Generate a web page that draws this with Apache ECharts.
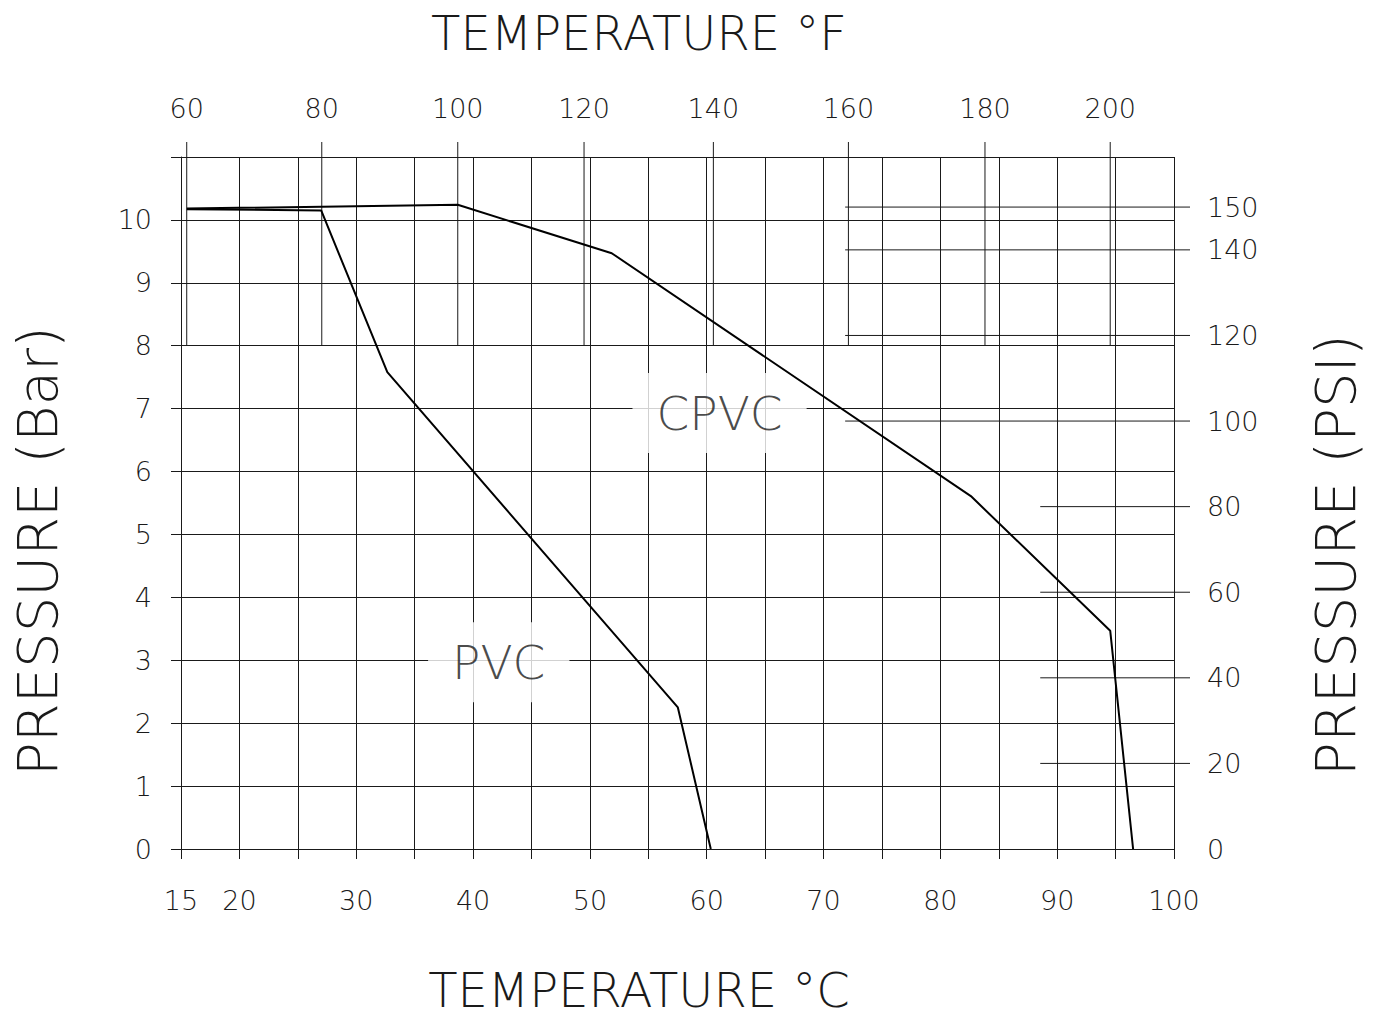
<!DOCTYPE html>
<html>
<head>
<meta charset="utf-8">
<script src="https://cdn.jsdelivr.net/npm/echarts@6/dist/echarts.min.js"></script>
<style>
html,body{margin:0;padding:0;background:#fff;}
#chart{width:1381px;height:1017px;}
</style>
</head>
<body>
<div id="chart"></div>
<script>
// ---- data ----
const pvcTempC  = [15.5, 27.0, 32.66, 57.53, 60.35];
const pvcBar    = [10.17, 10.15, 7.58, 2.25, 0];
const cpvcTempC = [15.5, 38.69, 51.87, 82.61, 94.54, 96.5];
const cpvcBar   = [10.18, 10.24, 9.47, 5.61, 3.47, 0];

// Fahrenheit scale (top): tick labels and the °C position where each is drawn
const fTickLabels = [60, 80, 100, 120, 140, 160, 180, 200];
const fTickAtC    = [15.49, 27.05, 38.69, 49.5, 60.57, 72.13, 83.82, 94.54];

// PSI scale (right)
const psiUpper = [150, 140, 120, 100];
const psiLower = [80, 60, 40, 20];
const psiZero  = [0];

// series labels
const labelNames = ['CPVC', 'PVC'];
const labelTempC = [61.1, 42.2];
const labelBar   = [6.93, 2.97];

const FONT = '"DejaVu Sans", Roboto, sans-serif';
const INK = '#1a1a1a';
const W = 200;

const chart = echarts.init(document.getElementById('chart'), null, {renderer: 'svg'});

function fRender(params, api) {
  const c = api.value(0);
  const pBottom = api.coord([c, 8]);
  const pTop = api.coord([c, 11]);
  return {
    type: 'group',
    children: [
      {type: 'line', shape: {x1: pBottom[0], y1: pBottom[1], x2: pBottom[0], y2: pTop[1] - 15},
       style: {stroke: INK, lineWidth: 1}},
      {type: 'text', x: pBottom[0], y: pTop[1] - 49,
       style: {text: String(api.value(1)), fill: INK, font: W + ' 27px ' + FONT, align: 'center', verticalAlign: 'middle'}}
    ]
  };
}

function psiRender(startC, drawLine) {
  return function (params, api) {
    const v = api.value(0);
    const pStart = api.coord([startC, v]);
    const pEnd = api.coord([100, v]);
    const children = [];
    if (drawLine) {
      children.push({type: 'line', shape: {x1: pStart[0], y1: pStart[1], x2: pEnd[0] + 16, y2: pEnd[1]},
        style: {stroke: INK, lineWidth: 1}});
    }
    children.push({type: 'text', x: pEnd[0] + 33, y: pEnd[1],
      style: {text: String(v), fill: INK, font: W + ' 27px ' + FONT, align: 'left', verticalAlign: 'middle'}});
    return {type: 'group', children: children};
  };
}

const option = {
  backgroundColor: '#fff',
  animation: false,
  grid: {left: 181, right: 207, top: 157, bottom: 168, containLabel: false},
  xAxis: [{
    type: 'value', min: 15, max: 100, interval: 5,
    axisLine: {show: true, onZero: false, lineStyle: {color: INK, width: 1}},
    axisTick: {show: true, length: 10, lineStyle: {color: INK, width: 1}},
    splitLine: {show: true, lineStyle: {color: INK, width: 1}},
    axisLabel: {
      margin: 38, color: INK, fontSize: 27, fontFamily: FONT, fontWeight: W,
      formatter: v => (v === 15 || v % 10 === 0) ? String(v) : ''
    }
  }],
  yAxis: [{
    type: 'value', min: 0, max: 11, interval: 1,
    axisLine: {show: true, onZero: false, lineStyle: {color: INK, width: 1}},
    axisTick: {show: true, length: 10, lineStyle: {color: INK, width: 1}},
    splitLine: {show: true, lineStyle: {color: INK, width: 1}},
    axisLabel: {
      margin: 29, color: INK, fontSize: 27, fontFamily: FONT, fontWeight: W,
      formatter: v => v === 11 ? '' : String(v)
    }
  }, {
    type: 'value', min: 0, max: 161.7, position: 'right',
    axisLine: {show: false}, axisTick: {show: false},
    axisLabel: {show: false}, splitLine: {show: false}
  }],
  graphic: [
    {type: 'text', x: 639, y: 33,
     style: {text: 'TEMPERATURE °F', fill: INK, font: W + ' 48px ' + FONT, align: 'center', verticalAlign: 'middle'}},
    {type: 'text', x: 639, y: 990,
     style: {text: 'TEMPERATURE °C', fill: INK, font: W + ' 48px ' + FONT, align: 'center', verticalAlign: 'middle'}},
    {type: 'text', x: 37, y: 551, rotation: Math.PI / 2,
     style: {text: 'PRESSURE (Bar)', fill: INK, font: W + ' 56px ' + FONT, align: 'center', verticalAlign: 'middle'}},
    {type: 'text', x: 1335, y: 555, rotation: Math.PI / 2,
     style: {text: 'PRESSURE (PSI)', fill: INK, font: W + ' 56px ' + FONT, align: 'center', verticalAlign: 'middle'}}
  ],
  series: [
    {
      name: 'F scale', type: 'custom', clip: false, z: 1,
      data: fTickAtC.map((c, i) => [c, fTickLabels[i]]),
      renderItem: fRender
    },
    {
      name: 'PSI upper', type: 'custom', clip: false, z: 1, yAxisIndex: 1,
      data: psiUpper.map(v => [v]),
      renderItem: psiRender(71.85, true)
    },
    {
      name: 'PSI lower', type: 'custom', clip: false, z: 1, yAxisIndex: 1,
      data: psiLower.map(v => [v]),
      renderItem: psiRender(88.55, true)
    },
    {
      name: 'PSI zero', type: 'custom', clip: false, z: 1, yAxisIndex: 1,
      data: psiZero.map(v => [v]),
      renderItem: psiRender(88.55, false)
    },
    {
      name: 'labels', type: 'scatter', z: 2, symbolSize: 0,
      data: labelNames.map((n, i) => ({name: n, value: [labelTempC[i], labelBar[i]]})),
      label: {
        show: true, position: 'inside', formatter: p => p.name,
        color: INK, fontSize: 47, fontFamily: FONT, fontWeight: W,
        backgroundColor: '#fff', padding: [16, 24, 16, 24], lineHeight: 48
      }
    },
    {
      name: 'PVC', type: 'line', z: 3, symbol: 'none',
      data: pvcTempC.map((c, i) => [c, pvcBar[i]]),
      lineStyle: {color: '#000', width: 2}
    },
    {
      name: 'CPVC', type: 'line', z: 3, symbol: 'none',
      data: cpvcTempC.map((c, i) => [c, cpvcBar[i]]),
      lineStyle: {color: '#000', width: 2}
    }
  ]
};
chart.setOption(option);
</script>
</body>
</html>
